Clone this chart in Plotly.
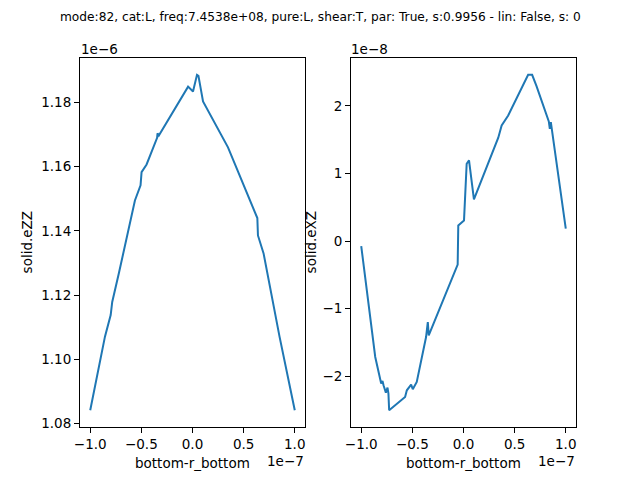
import plotly.graph_objects as go
from plotly.subplots import make_subplots

TITLE = "mode:82, cat:L, freq:7.4538e+08, pure:L, shear:T, par: True, s:0.9956 - lin: False, s: 0"
X_LABEL = "bottom-r_bottom"
LEFT_Y_LABEL = "solid.eZZ"
RIGHT_Y_LABEL = "solid.eXZ"
X_OFFSET = "1e\u22127"
LEFT_Y_OFFSET = "1e\u22126"
RIGHT_Y_OFFSET = "1e\u22128"

# left panel: x in units of 1e-7, solid.eZZ in units of 1e-6
ezz_x = [-1.0, -0.856, -0.800, -0.785, -0.720, -0.668, -0.563, -0.508, -0.498, -0.449,
         -0.346, -0.342, -0.329, -0.043, 0.005, 0.044, 0.058, 0.103, 0.347, 0.634,
         0.640, 0.695, 0.841, 0.851, 1.0]
ezz_y = [1.0842, 1.1071, 1.1138, 1.1179, 1.1268, 1.1343, 1.1495, 1.1542, 1.1583, 1.1607,
         1.1690, 1.1704, 1.1697, 1.1849, 1.1834, 1.1886, 1.1883, 1.1803, 1.1660, 1.1440,
         1.1386, 1.1330, 1.1092, 1.1071, 1.0842]

# right panel: x in units of 1e-7, solid.eXZ in units of 1e-8
exz_x = [-1.0, -0.863, -0.805, -0.792, -0.782, -0.759, -0.743, -0.734, -0.727, -0.571,
         -0.554, -0.512, -0.496, -0.457, -0.366, -0.349, -0.340, -0.057, -0.051, 0.005,
         0.031, 0.054, 0.102, 0.340, 0.373, 0.437, 0.632, 0.671, 0.714, 0.834,
         0.844, 0.854, 1.0]
exz_y = [-0.074, -1.716, -2.109, -2.071, -2.135, -2.243, -2.169, -2.257, -2.504, -2.308,
         -2.209, -2.124, -2.194, -2.086, -1.420, -1.198, -1.395, -0.349, 0.232, 0.306,
         1.145, 1.194, 0.617, 1.530, 1.712, 1.859, 2.462, 2.462, 2.293, 1.771,
         1.663, 1.760, 0.183]

x_tickvals = [-1.0, -0.5, 0.0, 0.5, 1.0]
x_ticktext = ["\u22121.0", "\u22120.5", "0.0", "0.5", "1.0"]
ezz_tickvals = [1.08, 1.10, 1.12, 1.14, 1.16, 1.18]
ezz_ticktext = ["1.08", "1.10", "1.12", "1.14", "1.16", "1.18"]
exz_tickvals = [-2, -1, 0, 1, 2]
exz_ticktext = ["\u22122", "\u22121", "0", "1", "2"]

LINE_COLOR = "#1f77b4"
FONT = "DejaVu Sans"


def padded(vals):
    lo, hi = min(vals), max(vals)
    d = hi - lo
    return [lo - 0.05 * d, hi + 0.05 * d]


fig = make_subplots(rows=1, cols=2)
fig.add_trace(go.Scatter(x=ezz_x, y=ezz_y, mode="lines", hoverinfo="skip",
                         line=dict(color=LINE_COLOR, width=2)), row=1, col=1)
fig.add_trace(go.Scatter(x=exz_x, y=exz_y, mode="lines", hoverinfo="skip",
                         line=dict(color=LINE_COLOR, width=2)), row=1, col=2)

axis_style = dict(showline=True, mirror=True, linecolor="black", linewidth=1,
                  ticks="outside", ticklen=5, tickwidth=1, tickcolor="black",
                  showgrid=False, zeroline=False, automargin=False,
                  tickfont=dict(family=FONT, size=13.5, color="black"))

L_DOM = [80 / 640, 305 / 640]
R_DOM = [351 / 640, 576 / 640]
Y_DOM = [53 / 480, 422 / 480]

fig.update_layout(
    template="none",
    width=640, height=480, showlegend=False,
    paper_bgcolor="white", plot_bgcolor="white",
    margin=dict(l=0, r=0, t=0, b=0, pad=0),
    xaxis=dict(domain=L_DOM, range=padded(ezz_x), tickvals=x_tickvals, ticktext=x_ticktext, **axis_style),
    xaxis2=dict(domain=R_DOM, range=padded(exz_x), tickvals=x_tickvals, ticktext=x_ticktext, **axis_style),
    yaxis=dict(domain=Y_DOM, range=padded(ezz_y), tickvals=ezz_tickvals, ticktext=ezz_ticktext, **axis_style),
    yaxis2=dict(domain=Y_DOM, range=padded(exz_y), tickvals=exz_tickvals, ticktext=exz_ticktext, **axis_style),
)

def py(Y):
    return 1 - Y / 480

def px(X):
    return X / 640

ann_font = dict(family=FONT, size=13.5, color="black")
annotations = [
    dict(text=TITLE, x=0.5, y=py(16.5), xanchor="center", yanchor="middle",
         font=dict(family=FONT, size=12.2, color="black")),
    dict(text=X_LABEL, x=px(192.7), y=py(463), xanchor="center", yanchor="middle", font=ann_font),
    dict(text=X_LABEL, x=px(463.3), y=py(463), xanchor="center", yanchor="middle", font=ann_font),
    dict(text=X_OFFSET, x=px(306), y=py(461), xanchor="right", yanchor="middle", font=ann_font),
    dict(text=X_OFFSET, x=px(577), y=py(461), xanchor="right", yanchor="middle", font=ann_font),
    dict(text=LEFT_Y_OFFSET, x=px(79), y=py(49), xanchor="left", yanchor="middle", font=ann_font),
    dict(text=RIGHT_Y_OFFSET, x=px(349), y=py(49), xanchor="left", yanchor="middle", font=ann_font),
    dict(text=LEFT_Y_LABEL, x=px(27), y=py(242.4), xanchor="center", yanchor="middle",
         textangle=-90, font=ann_font),
    dict(text=RIGHT_Y_LABEL, x=px(311), y=py(242.4), xanchor="center", yanchor="middle",
         textangle=-90, font=ann_font),
]
for a in annotations:
    a.update(xref="paper", yref="paper", showarrow=False)
fig.update_layout(annotations=annotations)

fig.write_html("out.html", config={"displayModeBar": False, "staticPlot": True},
               post_script="document.body.style.margin='0';document.body.style.padding='0';")
